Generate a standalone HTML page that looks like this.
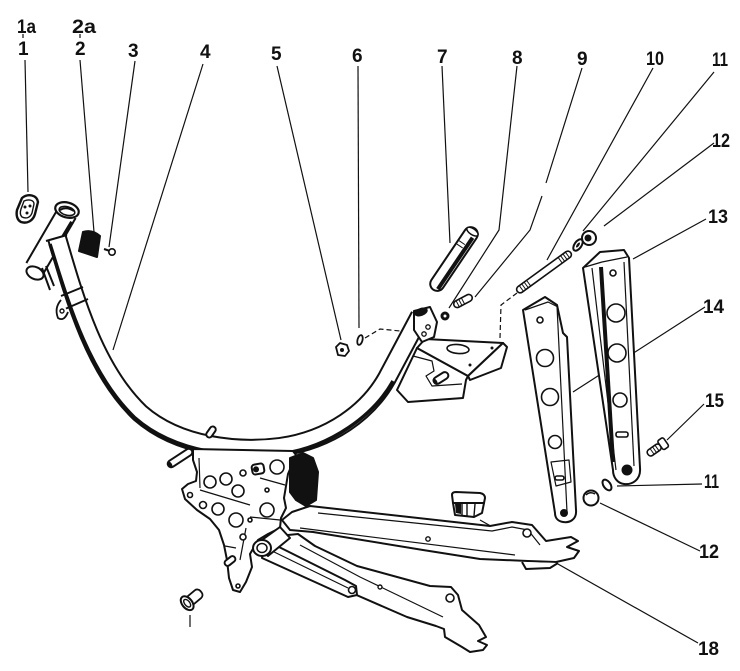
<!DOCTYPE html>
<html><head><meta charset="utf-8">
<style>
html,body{margin:0;padding:0;background:#fff;}
svg{display:block;}
text{font-family:"Liberation Sans",sans-serif;font-weight:bold;font-size:19px;fill:#111;}
</style></head><body>
<svg width="740" height="671" viewBox="0 0 740 671" xmlns="http://www.w3.org/2000/svg">
<rect width="740" height="671" fill="#fff"/>

<!-- Labels -->
<text x="17" y="33" textLength="19" lengthAdjust="spacingAndGlyphs">1a</text>
<text x="18" y="55">1</text>
<text x="72" y="33" textLength="24" lengthAdjust="spacingAndGlyphs">2a</text>
<text x="75" y="55">2</text>
<text x="128" y="57">3</text>
<text x="200" y="58">4</text>
<text x="271" y="60">5</text>
<text x="352" y="62">6</text>
<text x="437" y="63">7</text>
<text x="512" y="64">8</text>
<text x="577" y="65">9</text>
<text x="646" y="65" textLength="18" lengthAdjust="spacingAndGlyphs">10</text>
<text x="712" y="66" textLength="16" lengthAdjust="spacingAndGlyphs">11</text>
<text x="712" y="147" textLength="18" lengthAdjust="spacingAndGlyphs">12</text>
<text x="708" y="223" textLength="20" lengthAdjust="spacingAndGlyphs">13</text>
<text x="703" y="313" textLength="21" lengthAdjust="spacingAndGlyphs">14</text>
<text x="705" y="407" textLength="19" lengthAdjust="spacingAndGlyphs">15</text>
<text x="704" y="488" textLength="15" lengthAdjust="spacingAndGlyphs">11</text>
<text x="699" y="558" textLength="20" lengthAdjust="spacingAndGlyphs">12</text>
<text x="698" y="655" textLength="21" lengthAdjust="spacingAndGlyphs">18</text>

<!-- Leader lines -->
<g fill="none" stroke="#111" stroke-width="1.2">
<path d="M23,34 L23,38 M80,34 L80,38"/>
<path d="M25,60 L28,192"/>
<path d="M80,60 L94,232"/>
<path d="M135,61 L109,247"/>
<path d="M203,64 L113,350"/>
<path d="M277,66 L341,340"/>
<path d="M358,66 L359,328"/>
<path d="M442,66 L450,243"/>
<path d="M517,66 L499,230 L449,308"/>
<path d="M582,68 L546,183 M542,196 L530,230 L475,297"/>
<path d="M653,68 L547,260"/>
<path d="M714,72 L583,231"/>
<path d="M714,143 L604,226"/>
<path d="M706,219 L633,259"/>
<path d="M705,307 L573,392"/>
<path d="M704,404 L667,440"/>
<path d="M702,484 L617,486"/>
<path d="M700,551 L600,503"/>
<path d="M698,643 L480,520"/>
<path d="M190,615 L190,627"/>
<path d="M365,338 L380,329 L420,333" stroke-dasharray="5,3"/>
<path d="M517,293 L501,305 L500,338" stroke-dasharray="5,3"/>
</g>

<!-- Swing arms (behind plate) -->
<g stroke="#111" stroke-width="2" stroke-linejoin="round">
<path d="M282,520 L292,512 L310,506 L490,526 L512,522 L532,525 L546,541 L571,537 L578,541 L567,547 L579,551 L574,558 L556,562 L528,561 L480,559 L423,550 L313,532 L290,530 Z" fill="#fff"/>
<path d="M522,562 L526,569 L550,568 L558,563" fill="#fff"/>
<path d="M318,513 L492,531 L512,527 L528,530 L540,545" fill="none" stroke-width="1.2"/>
<path d="M300,528 L515,555" fill="none" stroke-width="1.2"/>
<circle cx="428" cy="539" r="2.2" fill="#fff" stroke-width="1.4"/>
<circle cx="527" cy="533" r="4" fill="#fff" stroke-width="1.6"/>

<path d="M278,536 L298,534 L315,546 L357,566 L430,586 L451,587 L458,595 L462,610 L479,625 L486,637 L478,641 L487,645 L483,650 L470,652 L462,647 L445,637 L444,629 L436,626 L407,617 L345,590 L290,567 L270,556 Z" fill="#fff"/>
<path d="M300,545 L360,577 L443,617" fill="none" stroke-width="1.2"/>
<circle cx="380" cy="587" r="2" fill="#fff" stroke-width="1.4"/>
<circle cx="450" cy="598" r="4" fill="#fff" stroke-width="1.6"/>
<path d="M265,540 L345,580 L356,586 L357,595 L348,597 L262,558 Z" fill="#fff"/>
<path d="M268,549 L348,588" fill="none" stroke-width="1.2"/>
<circle cx="352" cy="590" r="3.5" fill="#fff" stroke-width="1.6"/>
</g>

<!-- Head tube -->
<g stroke-linecap="butt">
<path d="M67,213 L35,268" stroke="#111" stroke-width="22"/>
<path d="M67,213 L35,268" stroke="#fff" stroke-width="18"/>
<path d="M72,222 L60,242" stroke="#111" stroke-width="4"/>
<ellipse cx="67" cy="210" rx="12" ry="7.5" transform="rotate(15 67 210)" fill="#fff" stroke="#111" stroke-width="2.2"/>
<ellipse cx="67" cy="211" rx="8" ry="4.2" transform="rotate(15 67 211)" fill="#fff" stroke="#111" stroke-width="1.6"/>
<path d="M60,210 Q66,206 74,211" fill="none" stroke="#111" stroke-width="2"/>
<ellipse cx="35" cy="273" rx="9" ry="6" transform="rotate(25 35 273)" fill="#fff" stroke="#111" stroke-width="2"/>
<path d="M42,268 L50,290 M46,266 L54,286" stroke="#111" stroke-width="2"/>
</g>

<!-- Main frame tube -->
<g fill="none">
<path d="M57,238 C75,300 95,370 140,413 C180,448 240,452 280,447 C330,440 368,412 387,378 L420,316" stroke="#111" stroke-width="20"/>
<path d="M57,238 C75,300 95,370 140,413 C180,448 240,452 280,447 C330,440 368,412 387,378 L420,316" stroke="#fff" stroke-width="16"/>
<path d="M50,244 C68,302 89,374 135,418 C176,454 240,459 281,454 C331,447 374,415 393,381" stroke="#111" stroke-width="3.5"/>
<path d="M46,241 L67,235" stroke="#111" stroke-width="2"/>
<!-- collar -->
<path d="M61,296 L83,287 M65,309 L88,299" stroke="#111" stroke-width="2"/>
<path d="M61,300 Q54,308 58,318 Q64,322 68,312" fill="#fff" stroke="#111" stroke-width="1.8"/>
<circle cx="62" cy="311" r="2" fill="#fff" stroke="#111" stroke-width="1.4"/>
</g>

<!-- Seat tube top / bracket -->
<g stroke="#111" stroke-width="2" stroke-linejoin="round">
<path d="M417,348 L397,390 L408,402 L463,398 L466,380 L468,376 Z" fill="#fff"/>
<path d="M413,356 L432,361 L434,371 L426,376 L432,386 L462,384" fill="none" stroke-width="1.2"/>
<path d="M425,339 L503,343 L468,376 L417,348 Z" fill="#fff"/>
<path d="M503,343 L507,347 L501,368 L470,380 L468,376 Z" fill="#fff"/>
<ellipse cx="458" cy="349" rx="11" ry="4.5" transform="rotate(5 458 349)" fill="#fff" stroke-width="1.6"/>
<circle cx="492" cy="348" r="1.5" fill="#111" stroke="none"/>
<circle cx="470" cy="365" r="1.5" fill="#111" stroke="none"/>
<path d="M414,311 L430,307 L437,322 L434,337 L422,342 L414,330 Z" fill="#fff"/>
<ellipse cx="421" cy="312" rx="7" ry="4" transform="rotate(-20 421 312)" fill="#111" stroke="none"/>
<circle cx="428" cy="327" r="2.2" fill="#fff" stroke-width="1.3"/>
<circle cx="424" cy="334" r="2.2" fill="#fff" stroke-width="1.3"/>
<g transform="translate(441,378) rotate(-32)"><rect x="-8" y="-3.5" width="16" height="7" rx="3.5" fill="#fff"/><ellipse cx="-7" cy="0" rx="2" ry="3.5" fill="#111" stroke="none"/></g>
</g>

<!-- Plate with holes -->
<g stroke="#111" stroke-width="2" stroke-linejoin="round">
<path d="M193,449 L293,451 L296,455 L288,474 L284,498 L286,508 L281,518 L280,528 L268,534 L258,540 L250,554 L252,567 L246,582 L240,592 L233,590 L229,578 L227,560 L224,545 L219,530 L210,519 L197,510 L185,499 L182,489 L188,484 L196,481 L197,472 L193,460 Z" fill="#fff"/>
<g fill="none" stroke-width="1.2">
<path d="M199,458 L200,488"/>
<path d="M200,490 L250,505"/>
<path d="M260,478 L285,485"/>
<path d="M250,517 L280,520"/>
<path d="M246,528 L240,560"/>
<path d="M225,546 L236,548"/>
</g>
<g fill="#fff" stroke-width="1.6">
<circle cx="210" cy="482" r="6"/>
<circle cx="226" cy="479" r="6"/>
<circle cx="238" cy="491" r="6"/>
<circle cx="277" cy="467" r="7"/>
<circle cx="218" cy="509" r="6"/>
<circle cx="236" cy="520" r="7"/>
<circle cx="267" cy="510" r="7"/>
<circle cx="190" cy="495" r="2.5"/>
<circle cx="203" cy="505" r="3.5"/>
<circle cx="243" cy="473" r="3"/>
<circle cx="267" cy="490" r="2"/>
<circle cx="250" cy="520" r="2"/>
<circle cx="243" cy="537" r="3"/>
<circle cx="238" cy="586" r="2"/>
</g>
<g transform="translate(258,469) rotate(-10)"><rect x="-6" y="-5" width="12" height="10" rx="3" fill="#fff"/><circle cx="-2" cy="0" r="3" fill="#111" stroke="none"/></g>
<path d="M290,458 L303,453 L313,458 L318,472 L316,500 L306,506 L296,500 L290,492 Z" fill="#111"/>
<!-- pivot -->
<path d="M255,545 L280,527 L290,538 L268,556 Z" fill="#fff"/>
<ellipse cx="262" cy="548" rx="9" ry="8" fill="#fff"/>
<ellipse cx="262" cy="548" rx="5" ry="4.5" fill="#fff" stroke-width="1.5"/>
<!-- pins -->
<g transform="translate(180,458) rotate(-33)"><rect x="-14" y="-3.5" width="28" height="7" rx="3.5" fill="#fff"/><ellipse cx="-12" cy="0" rx="2" ry="3.5" fill="#111" stroke="none"/></g>
<g transform="translate(211,432) rotate(-55)"><rect x="-6" y="-3" width="12" height="6" rx="3" fill="#fff"/></g>
<g transform="translate(230,561) rotate(-38)"><rect x="-6" y="-3" width="12" height="6" rx="3" fill="#fff"/></g>
</g>

<!-- Right plates 13 & 14 -->
<g stroke="#111" stroke-width="2" stroke-linejoin="round">
<path d="M583,268 L600,252 L624,250 L629,258 L640,468 C641,480 632,485 624,484 C617,483 613,477 613,470 Z" fill="#fff"/>
<path d="M585,267 L602,262 L627,257" fill="none" stroke-width="1.3"/>
<path d="M592,268 L616,470" fill="none" stroke-width="1.2"/>
<path d="M601,267 L613,462" fill="none" stroke-width="4"/>
<path d="M624,262 L634,466" fill="none" stroke-width="1.2"/>
<g fill="#fff" stroke-width="1.6">
<circle cx="613" cy="273" r="3"/>
<circle cx="616" cy="313" r="9"/>
<circle cx="617" cy="353" r="9"/>
<circle cx="620" cy="400" r="7"/>
<rect x="616" y="432" width="12" height="5" rx="2"/>
</g>
<circle cx="627" cy="470" r="4.5" fill="#111"/>

<path d="M523,310 L545,297 L557,305 L563,333 L567,337 L576,510 C577,520 569,523 563,522 C557,521 555,517 555,513 Z" fill="#fff"/>
<path d="M525,310 L548,302 L558,307" fill="none" stroke-width="1.2"/>
<path d="M557,306 L567,512" fill="none" stroke-width="1.2"/>
<g fill="#fff" stroke-width="1.6">
<circle cx="540" cy="320" r="3"/>
<circle cx="545" cy="358" r="8.5"/>
<circle cx="550" cy="397" r="8.5"/>
<circle cx="555" cy="442" r="6.5"/>
<rect x="555" y="476" width="9" height="4" rx="2"/>
</g>
<path d="M551,462 L569,460 L571,482 L556,486 Z" fill="none" stroke-width="1.2"/>
<circle cx="564" cy="513" r="3" fill="#111"/>
</g>

<!-- Small parts -->
<g stroke="#111" stroke-width="2" stroke-linejoin="round">
<!-- 1 badge -->
<path d="M22,198 C28,193 37,195 38,202 L35,214 C33,221 27,224 21,222 C17,220 16,215 17,210 Z" fill="#fff" stroke-width="2.4"/>
<path d="M24,201 C29,199 34,200 34,204 L32,213 C30,218 26,219 22,217 C20,215 20,212 21,209 Z" fill="#fff" stroke-width="1.4"/>
<circle cx="25" cy="207" r="1.5" fill="#111" stroke="none"/>
<circle cx="30" cy="206" r="1.5" fill="#111" stroke="none"/>
<circle cx="27" cy="213" r="1.5" fill="#111" stroke="none"/>
<!-- 2 -->
<path d="M83,232 Q92,229 100,236 L97,257 Q88,254 79,251 Z" fill="#111"/>
<!-- 3 -->
<path d="M104,249 L110,251" stroke-width="2"/>
<circle cx="112" cy="252" r="3.2" fill="#fff" stroke-width="1.6"/>
<!-- 5 nut -->
<path d="M336,347 L340,343 L347,345 L349,351 L345,356 L338,355 Z" fill="#fff" stroke-width="1.8"/>
<circle cx="342" cy="350" r="2" fill="#111" stroke="none"/>
<!-- 6 washer -->
<ellipse cx="360" cy="340" rx="2.5" ry="5" transform="rotate(15 360 340)" fill="#fff" stroke-width="1.8"/>
<!-- 7 pin -->
<g transform="translate(454,259) rotate(-56)">
<rect x="-37" y="-7" width="74" height="14" rx="7" fill="#fff"/>
<rect x="-34" y="1.5" width="62" height="4" fill="#111" stroke="none"/>
<ellipse cx="33" cy="0" rx="3" ry="6.5" fill="#fff" stroke-width="1.5"/>
<path d="M14,-6 L14,1 M18,-6 L18,1" stroke-width="1"/>
</g>
<!-- 8 -->
<circle cx="445" cy="316" r="4.5" fill="#111" stroke="none"/>
<circle cx="445" cy="316" r="1.5" fill="#fff" stroke="none"/>
<g transform="translate(463,301) rotate(-28)">
<rect x="-10" y="-3.5" width="20" height="7" rx="3.5" fill="#fff" stroke-width="1.6"/>
<path d="M-6,-3 L-6,3 M-3,-3 L-3,3 M0,-3 L0,3" stroke-width="1"/>
</g>
<!-- 9 stud -->
<g transform="translate(544,272) rotate(-36)">
<rect x="-33" y="-3.5" width="66" height="7" rx="3.5" fill="#fff" stroke-width="1.6"/>
<path d="M-28,-3 L-28,3 M-25,-3 L-25,3 M-22,-3 L-22,3 M-19,-3 L-19,3 M20,-3 L20,3 M23,-3 L23,3 M26,-3 L26,3 M29,-3 L29,3" stroke-width="1"/>
</g>
<!-- 11 top washer -->
<ellipse cx="578" cy="245" rx="3.5" ry="6.5" transform="rotate(35 578 245)" fill="#fff" stroke-width="2"/>
<ellipse cx="578" cy="245" rx="1.2" ry="3" transform="rotate(35 578 245)" fill="#111" stroke="none"/>
<!-- 12 top nut -->
<circle cx="589" cy="238" r="7" fill="#fff" stroke-width="2"/>
<circle cx="588" cy="238" r="3.5" fill="#111" stroke="none"/>
<!-- 15 bolt -->
<g transform="translate(657,448) rotate(-35)">
<rect x="-11" y="-3.5" width="15" height="7" rx="3" fill="#fff" stroke-width="1.6"/>
<rect x="4" y="-5.5" width="7" height="11" rx="2" fill="#fff" stroke-width="1.6"/>
<path d="M-6,-3 L-6,3 M-3,-3 L-3,3 M0,-3 L0,3" stroke-width="1"/>
</g>
<!-- 11 lower washer -->
<ellipse cx="607" cy="485" rx="3.5" ry="6" transform="rotate(-35 607 485)" fill="#fff" stroke-width="2"/>
<!-- 12 lower nut -->
<circle cx="591" cy="498" r="7.5" fill="#fff" stroke-width="2"/>
<path d="M586,495 Q590,491 595,494" fill="none" stroke-width="1.5"/>
<!-- 18 cap -->
<path d="M452,495 Q452,492 456,492 L480,493 Q485,494 485,498 L484,503 L453,503 Z" fill="#fff"/>
<path d="M453,503 L484,503 L482,513 L474,517 L455,515 Z" fill="#fff"/>
<path d="M462,504 L462,515 M467,504 L467,516 M475,504 L474,516" stroke-width="1.4"/>
<path d="M455,504 L461,504 L461,514 L456,513 Z" fill="#111" stroke="none"/>
<!-- bottom left bolt -->
<g transform="translate(191,600) rotate(-40)">
<rect x="-4" y="-5" width="17" height="10" rx="4" fill="#fff" stroke-width="1.8"/>
<ellipse cx="-5" cy="0" rx="5" ry="8" fill="#fff" stroke-width="2"/>
<ellipse cx="-5" cy="0" rx="2.5" ry="4.5" fill="#fff" stroke-width="1.4"/>
</g>
</g>
</svg>
</body></html>
